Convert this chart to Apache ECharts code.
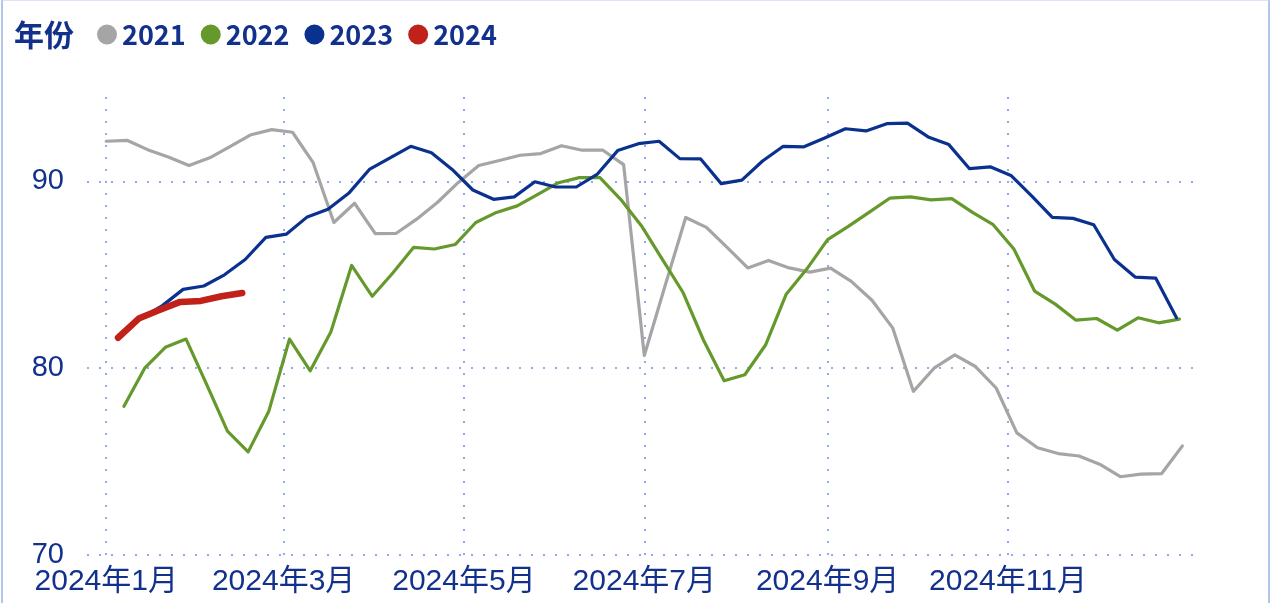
<!DOCTYPE html>
<html>
<head>
<meta charset="utf-8">
<script src="https://cdn.jsdelivr.net/npm/echarts@6/dist/echarts.min.js"></script>
<style>
  html, body { margin: 0; padding: 0; background: #fff; overflow: hidden; }
  #chart { position: absolute; left: 0; top: 0; width: 1281px; height: 603px; }
  #frame { position: absolute; left: 1px; top: -1px; width: 1265px; height: 620px;
           border: 2px solid #b4c5ec; border-top-color: #dce4f8; pointer-events: none; }
</style>
</head>
<body>
<div id="chart"></div>
<div id="frame"></div>
<script>
// 各年份周度数据（按月日对齐到 2024 年的时间轴）
const years = ['2021', '2022', '2023', '2024']
const colors = ['#a5a5a5', '#65992c', '#0b318f', '#c0221a']
const startDates = ['2024-01-01', '2024-01-07', '2024-01-06', '2024-01-05']

const values2021 = [92.15, 92.2, 91.7, 91.31, 90.85, 91.26, 91.88, 92.5, 92.77, 92.63,
  91.0, 87.8, 88.83, 87.2, 87.21, 87.98, 88.87, 89.93, 90.85, 91.12,
  91.4, 91.49, 91.91, 91.67, 91.67, 90.9, 80.68, 84.4, 88.07, 87.54,
  86.47, 85.37, 85.77, 85.37, 85.14, 85.36, 84.65, 83.64, 82.16, 78.76,
  80.0, 80.71, 80.09, 78.94, 76.54, 75.74, 75.43, 75.3, 74.86, 74.19,
  74.33, 74.36, 75.84]
const values2022 = [77.96, 80.0, 81.12, 81.56, 79.12, 76.63, 75.52, 77.7, 81.56, 79.86,
  81.95, 85.5, 83.85, 85.11, 86.47, 86.38, 86.62, 87.8, 88.34, 88.69,
  89.31, 89.93, 90.2, 90.2, 89.04, 87.63, 85.85, 84.08, 81.51, 79.33,
  79.65, 81.24, 83.96, 85.32, 86.88, 87.59, 88.34, 89.1, 89.17, 89.01,
  89.08, 88.34, 87.68, 86.38, 84.13, 83.43, 82.57, 82.66, 82.04, 82.7,
  82.43, 82.63]
const values2023 = [81.9, 82.7, 83.35, 84.22, 84.4, 85.0, 85.82, 87.0, 87.18, 88.1,
  88.51, 89.36, 90.64, 91.26, 91.88, 91.53, 90.64, 89.54, 89.04, 89.17,
  89.98, 89.7, 89.7, 90.37, 91.65, 92.02, 92.15, 91.22, 91.21, 89.88,
  90.07, 91.09, 91.88, 91.85, 92.32, 92.82, 92.7, 93.09, 93.12, 92.38,
  91.97, 90.68, 90.78, 90.32, 89.22, 88.07, 88.02, 87.68, 85.82, 84.88,
  84.82, 82.7]
const values2024 = [81.63, 82.66, 83.11, 83.55, 83.6, 83.85, 84.03]
const allValues = [values2021, values2022, values2023, values2024]

// x 轴刻度（每两个月）
const tickMonths = ['2024-01-01', '2024-03-01', '2024-05-01', '2024-07-01', '2024-09-01', '2024-11-01']

const textColor = '#12318c'
const gridColor = '#8eabf0'
const font = '"Liberation Sans", "Noto Sans CJK SC", sans-serif'
const boldFont = '"Noto Sans CJK SC", sans-serif'

const toTime = (s) => {
  const p = s.split('-').map(Number)
  return new Date(p[0], p[1] - 1, p[2]).getTime()
}
const DAY = 24 * 3600 * 1000

// 周度数据：起始日期之后每 7 天一个点
const weekly = (start, vals) => vals.map((v, i) => [toTime(start) + i * 7 * DAY, v])

const tickValues = tickMonths.map(toTime)

const series = years.map((name, k) => ({
  name,
  type: 'line',
  data: weekly(startDates[k], allValues[k]),
  showSymbol: false,
  symbol: 'circle',
  color: colors[k],
  lineStyle: { width: k === 3 ? 6.5 : 3.2, cap: 'round', join: 'round' },
  z: 2 + k
}))

const chart = echarts.init(document.getElementById('chart'))
chart.setOption({
  animation: false,
  backgroundColor: '#fff',
  textStyle: { fontFamily: font },
  title: {
    text: '年份',
    left: 9,
    top: 15,
    textStyle: { fontSize: 30, fontWeight: 'bold', color: textColor, fontFamily: boldFont }
  },
  legend: {
    left: 92,
    top: 16,
    icon: 'circle',
    itemWidth: 20,
    itemHeight: 20,
    itemGap: 15,
    data: years,
    textStyle: { fontSize: 27, fontWeight: 'bold', color: textColor, fontFamily: boldFont }
  },
  grid: { left: 87, right: 88, top: 88, bottom: 48 },
  xAxis: {
    type: 'value',
    min: toTime('2023-12-25') + 12 * 3600 * 1000,
    max: toTime('2025-01-02') + 14 * 3600 * 1000,
    axisLine: { show: false },
    splitLine: { show: false },
    axisTick: {
      show: true,
      inside: true,
      length: 467,
      customValues: tickValues,
      lineStyle: { color: gridColor, width: 2, type: [2, 10] }
    },
    axisLabel: {
      customValues: tickValues,
      margin: 12,
      fontSize: 30,
      color: textColor,
      fontFamily: font,
      formatter: (v) => {
        const d = new Date(v)
        return d.getFullYear() + '年' + (d.getMonth() + 1) + '月'
      }
    }
  },
  yAxis: {
    type: 'value',
    min: 70,
    max: 95,
    interval: 10,
    axisLine: { show: false },
    axisTick: { show: false },
    axisLabel: { margin: 23, fontSize: 29, color: textColor, fontFamily: font, showMaxLabel: false },
    splitLine: {
      show: true,
      showMaxLine: false,
      lineStyle: { color: gridColor, width: 2, type: [2, 10] }
    }
  },
  series
})
</script>
</body>
</html>
